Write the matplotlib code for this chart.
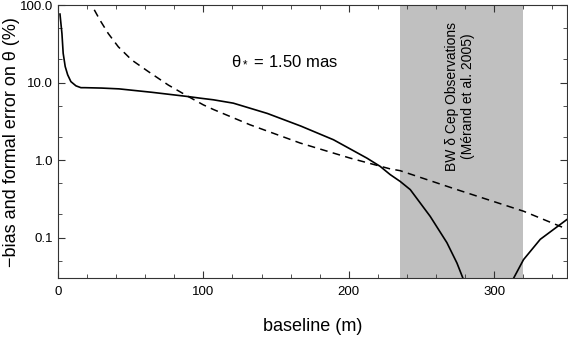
import matplotlib
matplotlib.use("Agg")
import matplotlib.pyplot as plt
from matplotlib.ticker import LogLocator, FixedLocator, FormatStrFormatter, MultipleLocator, NullFormatter

plt.rcParams['font.family'] = ['Liberation Sans', 'DejaVu Sans']
plt.rcParams['mathtext.fontset'] = 'custom'
plt.rcParams['mathtext.rm'] = 'Liberation Sans'
plt.rcParams['mathtext.it'] = 'Liberation Sans'

# courbe pleine : -biais (%)
bias_x = [1.4, 2.75, 3.6, 5.0, 6.7, 8.9, 12.4, 15.8, 18.6, 30, 42, 64.5, 89.7, 97.7, 106.9,
          120.6, 144, 167, 189.5, 212.5, 221.6, 228.5, 235.4, 242.3, 256, 267.5, 274.4,
          278.5, 281, 311, 313.4, 320.2, 331.7, 350]
bias_y = [76.6, 43, 23.9, 16.1, 12.6, 10.3, 9.08, 8.6, 8.6, 8.5, 8.3, 7.5, 6.6, 6.3, 6.0,
          5.43, 4.0, 2.75, 1.83, 1.06, 0.83, 0.65, 0.53, 0.416, 0.188, 0.086, 0.047,
          0.030, 0.02, 0.02, 0.030, 0.052, 0.095, 0.171]

# courbe tiretée : erreur formelle (%)
err_x = [18, 23.2, 28.9, 34.6, 41.5, 50.7, 62.1, 75.9, 89.7, 100, 106.9, 132, 166.6,
         201, 228.5, 235.4, 274.4, 320.2, 347.8, 350]
err_y = [135, 100, 64, 43, 29, 19.6, 13.9, 9.3, 6.6, 5.16, 4.5, 2.86, 1.66,
         1.06, 0.77, 0.73, 0.416, 0.219, 0.134, 0.13]

# zone des observations BW
obs_band = (235, 320)

fig = plt.figure(figsize=(5.68, 3.40), dpi=100)
ax = fig.add_axes([0.102, 0.182, 0.896, 0.803])

ax.axvspan(obs_band[0], obs_band[1], color='#c0c0c0', lw=0, zorder=0)
ax.plot(bias_x, bias_y, color='black', lw=1.2)
ax.plot(err_x, err_y, color='black', lw=1.1, dashes=(5, 3.5))

ax.set_yscale('log')
ax.set_xlim(0, 350)
ax.set_ylim(0.03, 100)

ax.yaxis.set_major_locator(FixedLocator([0.1, 1, 10, 100]))
ax.yaxis.set_major_formatter(FormatStrFormatter('%.1f'))
ax.yaxis.set_minor_locator(LogLocator(base=10, subs=(2, 5)))
ax.yaxis.set_minor_formatter(NullFormatter())
ax.xaxis.set_major_locator(MultipleLocator(100))
ax.xaxis.set_minor_locator(MultipleLocator(20))

ax.tick_params(which='both', direction='in', top=True, right=True, labelsize=9.5, color='#333333')
ax.tick_params(which='major', length=5)
ax.tick_params(which='minor', length=3)
ax.tick_params(axis='x', pad=6)
for s in ax.spines.values():
    s.set_color('#333333')

ax.set_xlabel('baseline (m)', fontsize=13, labelpad=14)
ax.set_ylabel('\u2212bias and formal error on \u03b8 (%)', fontsize=13)
ax.yaxis.set_label_coords(-0.074, 0.5)

ax.text(155.5, 19.2, '\u03b8$_*$ = 1.50 mas', fontsize=12, ha='center', va='center')
ax.text(276.5, 6.6, 'BW \u03b4 Cep Observations\n(M\u00e9rand et al. 2005)', rotation=90,
        fontsize=10, ha='center', va='center', linespacing=1.1)

fig.savefig('out.png', dpi=100)
